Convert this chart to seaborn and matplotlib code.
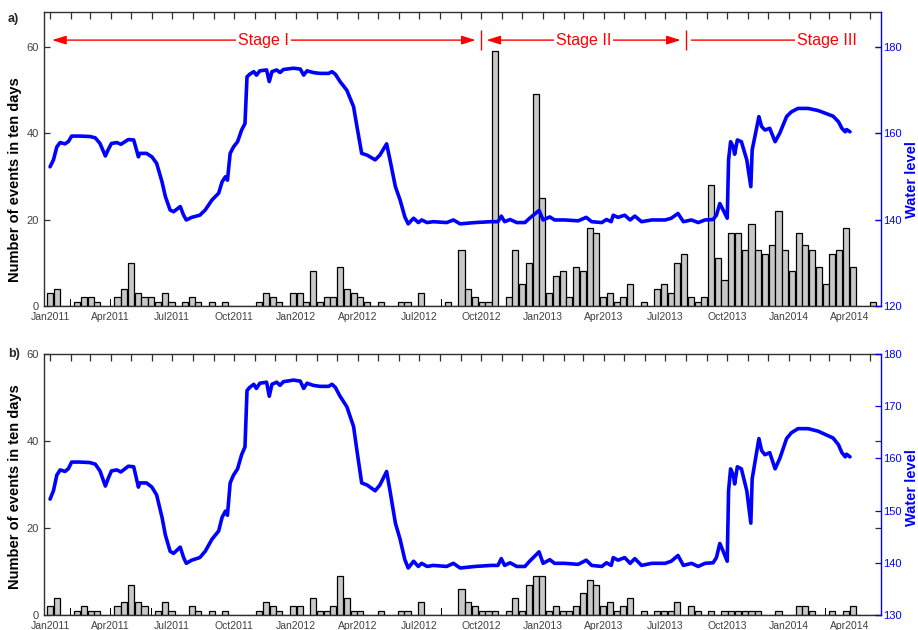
import matplotlib
matplotlib.use("Agg")
import matplotlib.pyplot as plt
import matplotlib.dates as mdates
import numpy as np
import pandas as pd
import seaborn as sns

sns.set_theme(style="white")
plt.rcParams["font.family"] = ["Liberation Sans", "DejaVu Sans"]

# ---------------------------------------------------------------------------
# Event counts in 10-day bins; bin k is centred on BIN_ORIGIN + 10*k days
# ---------------------------------------------------------------------------
BIN_ORIGIN = "2011-01-01"
BIN_DAYS = 10

events_all = [3, 4, 0, 0, 1, 2, 2, 1, 0, 0,
              2, 4, 10, 3, 2, 2, 1, 3, 1, 0,
              1, 2, 1, 0, 1, 0, 1, 0, 0, 0,
              0, 1, 3, 2, 1, 0, 3, 3, 1, 8,
              1, 2, 2, 9, 4, 3, 2, 1, 0, 1,
              0, 0, 1, 1, 0, 3, 0, 0, 0, 1,
              0, 13, 4, 2, 1, 1, 59, 0, 2, 13,
              5, 10, 49, 25, 3, 7, 8, 2, 9, 8,
              18, 17, 2, 3, 1, 2, 5, 0, 1, 0,
              4, 5, 3, 10, 12, 2, 1, 2, 28, 11,
              6, 17, 17, 13, 19, 13, 12, 14, 22, 13,
              8, 17, 14, 13, 9, 5, 12, 13, 18, 9,
              0, 0, 1]

events_sel = [2, 4, 0, 0, 1, 2, 1, 1, 0, 0,
              2, 3, 7, 3, 2, 0, 1, 3, 1, 0,
              0, 2, 1, 0, 1, 0, 1, 0, 0, 0,
              0, 1, 3, 2, 1, 0, 2, 2, 0, 4,
              1, 1, 2, 9, 4, 1, 1, 0, 0, 1,
              0, 0, 1, 1, 0, 3, 0, 0, 0, 0,
              0, 6, 3, 2, 1, 1, 1, 0, 1, 4,
              1, 7, 9, 9, 1, 2, 1, 1, 2, 5,
              8, 7, 2, 3, 1, 2, 4, 0, 1, 0,
              1, 1, 1, 3, 0, 2, 1, 0, 1, 0,
              1, 1, 1, 1, 1, 1, 0, 0, 1, 0,
              0, 2, 2, 1, 0, 0, 1, 0, 1, 2,
              0, 0, 0]

# hairline bars (bins holding a single short burst)
hair_bins_all = [3, 9, 27, 58, 67]
hair_vals_all = [1.6, 1.7, 1.7, 1.6, 1.6]
hair_bins_sel = [3, 9, 15, 27, 58, 67, 94, 106, 110, 115]
hair_vals_sel = [1.6, 1.7, 1.6, 1.7, 1.6, 1.6, 1.6, 1.6, 1.6, 1.6]

# ---------------------------------------------------------------------------
# Reservoir water level (days after BIN_ORIGIN, level)
# ---------------------------------------------------------------------------
level_day = [0, 5, 10, 15, 22, 27, 32, 44, 59, 67, 74, 82, 86, 91, 99, 105,
             111, 116, 124, 131, 133, 143, 151, 158, 166, 171, 178, 183, 193,
             198, 202, 210, 222, 230, 240, 250, 255, 260, 263, 267, 272, 278,
             284, 289, 292, 296, 302, 306, 311, 321, 325, 329, 336, 341, 346,
             361, 371, 376, 381, 390, 400, 413, 418, 423, 430, 440, 450, 455,
             462, 470, 482, 489, 499, 504, 512, 519, 526, 531, 539, 546, 551,
             559, 568, 588, 598, 608, 630, 654, 664, 669, 674, 682, 692, 704,
             711, 721, 725, 731, 741, 748, 763, 783, 795, 803, 818, 825, 832,
             835, 842, 852, 860, 867, 877, 892, 912, 921, 931, 939, 951, 961,
             971, 983, 988, 993, 998, 1004, 1006, 1009, 1013, 1015, 1019,
             1025, 1033, 1039, 1041, 1045, 1051, 1055, 1060, 1067, 1075, 1082,
             1092, 1099, 1109, 1124, 1139, 1149, 1161, 1169, 1174, 1179, 1181,
             1186]
level_val = [152.2, 153.8, 156.8, 157.8, 157.5, 158.0, 159.3, 159.3, 159.2,
             158.9, 157.6, 154.7, 156.1, 157.6, 157.8, 157.4, 158.0, 158.5,
             158.4, 154.5, 155.3, 155.3, 154.5, 153.0, 148.7, 145.3, 142.2,
             141.8, 143.0, 141.0, 139.9, 140.5, 141.0, 142.2, 144.5, 146.1,
             148.7, 149.9, 149.1, 155.3, 156.8, 158.0, 160.7, 162.2, 173.0,
             173.6, 174.2, 173.4, 174.4, 174.6, 171.9, 174.2, 174.6, 174.0,
             174.7, 175.0, 174.8, 173.4, 174.4, 174.0, 173.8, 173.8, 174.2,
             173.6, 171.9, 169.9, 166.1, 161.5, 155.3, 154.9, 153.8, 154.9,
             157.5, 153.8, 147.6, 144.5, 140.6, 139.0, 140.3, 139.3, 139.9,
             139.3, 139.5, 139.3, 139.9, 139.0, 139.3, 139.5, 139.5, 140.8,
             139.5, 140.0, 139.3, 139.3, 140.3, 141.6, 142.1, 139.9, 140.6,
             139.9, 139.9, 139.7, 140.5, 139.5, 139.3, 140.0, 139.5, 141.0,
             140.5, 141.0, 139.9, 140.8, 139.5, 139.9, 139.9, 140.3, 141.4,
             139.5, 139.9, 139.3, 139.9, 140.0, 141.0, 143.7, 142.2, 140.3,
             153.8, 158.0, 156.8, 155.1, 158.4, 158.0, 153.8, 147.6, 156.1,
             159.2, 163.8, 161.5, 160.7, 161.1, 158.0, 160.0, 163.8, 164.9,
             165.7, 165.7, 165.2, 164.6, 163.9, 162.6, 161.1, 160.3, 160.8,
             160.3]

# stage boundaries
stage_names = ["Stage I", "Stage II", "Stage III"]
stage_starts = ["2011-01-04", "2012-10-01", "2013-08-01"]
stage_ends = ["2012-10-01", "2013-08-01", None]

X_START, X_END = "2010-12-23", "2014-05-17"

origin = mdates.date2num(pd.Timestamp(BIN_ORIGIN))
dnum = lambda s: mdates.date2num(pd.Timestamp(s))

W, H = 918, 630
fig = plt.figure(figsize=(W / 100, H / 100), dpi=100)
ax_a = fig.add_axes([44 / W, 1 - 306 / H, 837 / W, 294 / H])
ax_b = fig.add_axes([44 / W, 1 - 615 / H, 837 / W, 261 / H])

BAR_FACE = "#c8c8c8"
AX_COL = "#303030"
LBL_COL = "#404040"


def draw_panel(ax, counts, hair_bins, hair_vals, ylim, yticks,
               level_lim, level_ticks, ylab_y):
    df = pd.DataFrame({"t": origin + BIN_DAYS * np.arange(len(counts)),
                       "n": counts})
    sns.barplot(data=df, x="t", y="n", native_scale=True, width=0.9,
                color=BAR_FACE, saturation=1, edgecolor="black",
                linewidth=0.9, errorbar=None, ax=ax, zorder=2)
    ax.bar(origin + BIN_DAYS * np.array(hair_bins), hair_vals, width=0.9,
           color="black", linewidth=0, zorder=2)

    ax2 = ax.twinx()
    lv = pd.DataFrame({"t": origin + np.array(level_day, float),
                       "level": level_val})
    sns.lineplot(data=lv, x="t", y="level", color="blue", linewidth=2.6,
                 ax=ax2, zorder=3)

    ax.set_xlim(dnum(X_START), dnum(X_END))
    ax.set_ylim(*ylim)
    ax.set_yticks(yticks)
    ax2.set_ylim(*level_lim)
    ax2.set_yticks(level_ticks)

    ax.xaxis.set_major_locator(mdates.MonthLocator(bymonth=[1, 4, 7, 10]))
    ax.xaxis.set_minor_locator(mdates.MonthLocator())
    ax.xaxis.set_major_formatter(mdates.DateFormatter("%b%Y"))

    ax.tick_params(axis="x", which="both", direction="in", top=True,
                   length=5, width=0.9, color=AX_COL, labelsize=7.5,
                   labelcolor=LBL_COL, pad=4)
    ax.tick_params(axis="y", direction="in", left=True, right=True,
                   length=4, width=0.9, color=AX_COL, labelsize=8,
                   labelcolor=LBL_COL, pad=3.5)
    ax2.tick_params(axis="y", direction="in", length=4, width=0.9,
                    color="blue", labelsize=8, labelcolor="blue", pad=1.5)

    for side in ["left", "top", "bottom"]:
        ax.spines[side].set_color(AX_COL)
        ax.spines[side].set_linewidth(1.0)
        ax2.spines[side].set_visible(False)
    ax.spines["right"].set_visible(False)
    ax2.spines["right"].set_color("blue")
    ax2.spines["right"].set_linewidth(1.0)

    ax.set_xlabel("")
    ax.set_ylabel("Number of events in ten days", fontsize=10.5,
                  fontweight="bold", color="black")
    ax.yaxis.set_label_coords(-0.026, ylab_y)
    ax2.set_xlabel("")
    ax2.set_ylabel("Water level", fontsize=10.5, fontweight="bold",
                   color="blue")
    ax2.yaxis.set_label_coords(1.029, ylab_y)
    ax.set_facecolor("white")
    ax2.patch.set_visible(False)
    ax.grid(False)
    ax2.grid(False)
    return ax2


draw_panel(ax_a, events_all, hair_bins_all, hair_vals_all, (0, 68),
           [0, 20, 40, 60], (120, 188), [120, 140, 160, 180], 0.43)
draw_panel(ax_b, events_sel, hair_bins_sel, hair_vals_sel, (0, 60),
           [0, 20, 40, 60], (130, 180), [130, 140, 150, 160, 170, 180], 0.49)

# stage annotations along the top of panel a
y_st = 61.5
pad_days = 8
for name, s, e in zip(stage_names, stage_starts, stage_ends):
    x0 = dnum(s) + (0 if name == "Stage I" else pad_days)
    if e is not None:
        x1 = dnum(e) - pad_days
        ax_a.annotate("", xy=(x0, y_st), xytext=(x1, y_st),
                      arrowprops=dict(arrowstyle="<|-|>,head_length=0.7,head_width=0.22",
                                      color="red", lw=1.0, shrinkA=0, shrinkB=0),
                      zorder=5)
        xt = (x0 + x1) / 2
    else:
        xt = dnum("2014-02-26")
        ax_a.annotate("", xy=(x0, y_st), xytext=(xt, y_st),
                      arrowprops=dict(arrowstyle="<|-,head_length=0.7,head_width=0.22",
                                      color="red", lw=1.0, shrinkA=0, shrinkB=0),
                      zorder=5)
    if name == "Stage I":
        xt = dnum("2011-11-13")
    ax_a.text(xt, y_st, name, color="red", fontsize=11.5, ha="center",
              va="center", zorder=6,
              bbox=dict(facecolor="white", edgecolor="none", pad=1.5))

for e in stage_ends[:-1]:
    ax_a.vlines(dnum(e), 59.3, 63.9, color="red", lw=1.0, zorder=5)

fig.text(8 / W, 1 - 19 / H, "a)", fontsize=9, fontweight="bold",
         ha="left", va="center")
fig.text(8 / W, 1 - 354 / H, "b)", fontsize=9, fontweight="bold",
         ha="left", va="center")

fig.savefig("out.png", dpi=100)
